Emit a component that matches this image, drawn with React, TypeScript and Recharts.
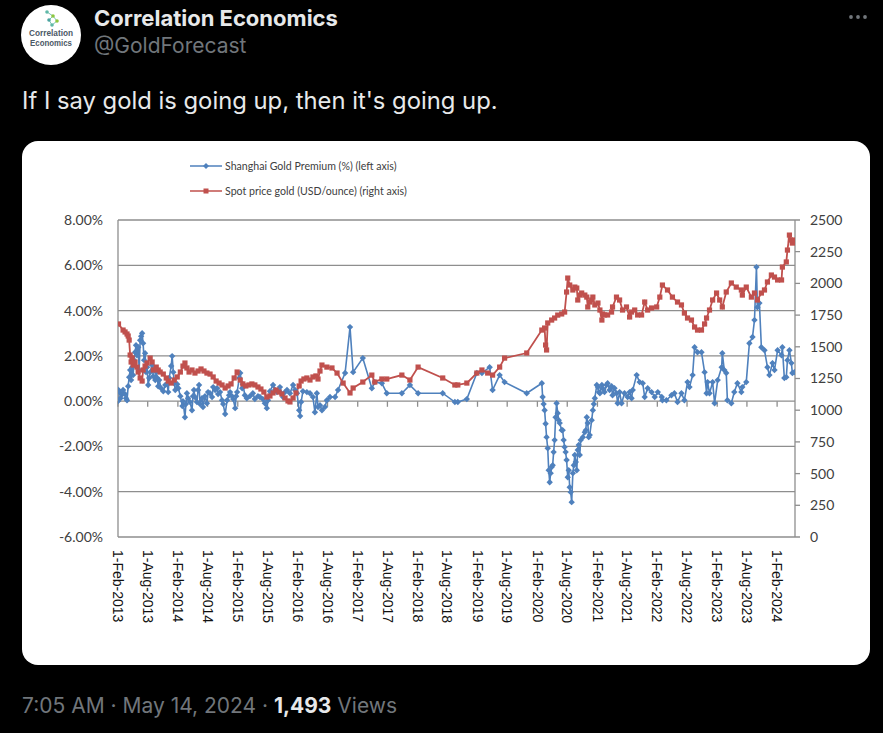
import type { ReactNode } from 'react';
import { CartesianGrid, Legend, Line, LineChart, ReferenceLine, XAxis, YAxis } from 'recharts';

// Shanghai gold premium over London spot, in percent (left axis)
const premiumDates = [
  '2013-02-01', '2013-02-04', '2013-02-10', '2013-02-16', '2013-02-28', '2013-03-04', '2013-03-16', '2013-03-22', '2013-03-28', '2013-04-04',
  '2013-04-10', '2013-04-16', '2013-04-22', '2013-04-28', '2013-05-04', '2013-05-10', '2013-05-16', '2013-05-22', '2013-05-28', '2013-06-04',
  '2013-06-10', '2013-06-16', '2013-06-22', '2013-06-28', '2013-07-04', '2013-07-10', '2013-07-16', '2013-07-22', '2013-07-28', '2013-08-04',
  '2013-08-10', '2013-08-16', '2013-08-28', '2013-09-04', '2013-09-16', '2013-09-22', '2013-09-28', '2013-10-04', '2013-10-10', '2013-10-22',
  '2013-11-04', '2013-11-16', '2013-11-28', '2013-12-04', '2013-12-10', '2013-12-22', '2013-12-28',
  '2014-01-04', '2014-01-10', '2014-01-16', '2014-01-28', '2014-02-04', '2014-02-16', '2014-02-28', '2014-03-04', '2014-03-16', '2014-03-22',
  '2014-03-28', '2014-04-04', '2014-04-16', '2014-04-28', '2014-05-04', '2014-05-10', '2014-05-16', '2014-05-28', '2014-06-04', '2014-06-10',
  '2014-06-16', '2014-06-28', '2014-07-04', '2014-07-16', '2014-07-28', '2014-08-04', '2014-08-16', '2014-08-28', '2014-09-04', '2014-09-16',
  '2014-09-28', '2014-10-04', '2014-10-16', '2014-10-28', '2014-11-04', '2014-11-16', '2014-11-28', '2014-12-10', '2014-12-16', '2014-12-28',
  '2015-01-04', '2015-01-16', '2015-01-22', '2015-01-28', '2015-02-10', '2015-02-16', '2015-02-28', '2015-03-04', '2015-03-16', '2015-03-28',
  '2015-04-16', '2015-05-04', '2015-05-16', '2015-06-04', '2015-06-16', '2015-07-04', '2015-07-16', '2015-07-28', '2015-08-04', '2015-08-16',
  '2015-09-04', '2015-09-16', '2015-09-28', '2015-10-16', '2015-11-04', '2015-11-16', '2015-11-28', '2015-12-16',
  '2016-01-04', '2016-01-16', '2016-01-28', '2016-02-10', '2016-02-16', '2016-02-22', '2016-03-04', '2016-03-28', '2016-04-16', '2016-05-04',
  '2016-05-16', '2016-05-28', '2016-06-04', '2016-06-16', '2016-06-28', '2016-07-16', '2016-07-28', '2016-08-16', '2016-09-16', '2016-10-04',
  '2016-11-16', '2016-12-16',
  '2017-01-04', '2017-03-04', '2017-04-28', '2017-05-16', '2017-06-28', '2017-07-28', '2017-10-28', '2017-12-16',
  '2018-02-04', '2018-07-04', '2018-09-16', '2018-10-04', '2018-11-28',
  '2019-01-28', '2019-02-28', '2019-04-16', '2019-05-04', '2019-06-16', '2019-07-16', '2019-11-28',
  '2020-02-28', '2020-03-04', '2020-03-10', '2020-03-16', '2020-03-22', '2020-03-28', '2020-04-04', '2020-04-10', '2020-04-16', '2020-04-22',
  '2020-04-28', '2020-05-04', '2020-05-10', '2020-05-16', '2020-05-22', '2020-05-28', '2020-06-04', '2020-06-10', '2020-06-16', '2020-06-28',
  '2020-07-04', '2020-07-10', '2020-07-16', '2020-07-22', '2020-07-28', '2020-08-04', '2020-08-10', '2020-08-16', '2020-08-22', '2020-08-28',
  '2020-09-04', '2020-09-10', '2020-09-16', '2020-09-22', '2020-09-28', '2020-10-04', '2020-10-10', '2020-10-16', '2020-10-22', '2020-11-04',
  '2020-11-16', '2020-11-22', '2020-11-28', '2020-12-04', '2020-12-10', '2020-12-16', '2020-12-28',
  '2021-01-04', '2021-01-10', '2021-01-16', '2021-01-28', '2021-02-04', '2021-02-10', '2021-02-16', '2021-02-28', '2021-03-04', '2021-03-16',
  '2021-03-28', '2021-04-04', '2021-04-16', '2021-04-28', '2021-05-04', '2021-05-16', '2021-05-28', '2021-06-04', '2021-06-16', '2021-06-28',
  '2021-07-16', '2021-08-04', '2021-08-16', '2021-08-28', '2021-09-04', '2021-09-28', '2021-10-16', '2021-11-04', '2021-11-16', '2021-12-04',
  '2021-12-28',
  '2022-01-16', '2022-02-04', '2022-02-28', '2022-03-04', '2022-03-28', '2022-04-28', '2022-05-16', '2022-06-04', '2022-06-28', '2022-07-16',
  '2022-08-04', '2022-08-16', '2022-09-04', '2022-09-16', '2022-10-04', '2022-10-28', '2022-11-16', '2022-11-28', '2022-12-04', '2022-12-16',
  '2023-01-04', '2023-01-16', '2023-02-04', '2023-02-28', '2023-03-04', '2023-03-16', '2023-03-28', '2023-04-04', '2023-04-28', '2023-05-16',
  '2023-06-04', '2023-06-28', '2023-07-04', '2023-07-28', '2023-08-16', '2023-09-04', '2023-09-16', '2023-09-28', '2023-10-04', '2023-10-16',
  '2023-10-28', '2023-11-16', '2023-12-04', '2023-12-16',
  '2024-01-04', '2024-01-16', '2024-02-04', '2024-02-28', '2024-03-04', '2024-03-16', '2024-03-28', '2024-04-04', '2024-04-16', '2024-04-28',
  '2024-05-04', '2024-05-16',
];

const premiumValues = [
  0.0, 0.49, 0.4, 0.13, 0.31, 0.49, 0.31, 0.13, 0.04, 0.66,
  1.06, 1.37, 0.93, 1.5, 1.15, 1.81, 2.16, 2.47, 2.03, 2.38,
  1.37, 2.69, 2.87, 3.0, 2.56, 1.81, 2.12, 1.28, 1.5, 0.71,
  1.02, 1.28, 1.59, 1.1, 0.93, 1.28, 1.02, 0.66, 0.93, 0.57,
  0.44, 0.71, 0.75, 0.4, 1.02, 1.55, 1.99,
  1.28, 0.79, 0.49, 0.75, 0.57, 0.22, -0.22, 0.0, -0.71, -0.13,
  0.35, 0.13, -0.04, -0.4, 0.22, 0.49, 0.18, -0.04, 0.49, 0.71,
  -0.13, 0.13, -0.26, 0.22, -0.09, 0.4, 0.35, 0.18, 0.62, 0.49,
  0.57, 0.31, 0.4, 0.04, -0.13, -0.57, 0.04, 0.26, 0.4, 0.22,
  0.09, -0.31, 0.22, 0.4, 1.02, 1.24, 0.57, 0.75, 0.26, 0.13,
  0.22, 0.35, 0.09, 0.22, 0.18, 0.09, -0.09, -0.31, 0.04, 0.44,
  0.71, 0.49, 0.4, 0.62, 0.18, 0.4, 0.49, 0.35,
  0.71, 0.49, 0.35, -0.4, -0.66, -0.04, 0.44, 0.4, 0.35, 0.18,
  -0.49, 0.35, -0.26, -0.18, -0.4, -0.26, 0.04, 0.18, 0.18, 0.49,
  1.24, 3.27,
  1.28, 1.9, 0.57, 0.84, 0.79, 0.35, 0.35, 0.71,
  0.35, 0.35, -0.04, -0.04, 0.09,
  1.24, 1.24, 1.5, 0.49, 1.15, 0.84, 0.35,
  0.79, 0.18, -0.13, -0.4, -1.0, -1.59, -2.08, -3.05, -3.58, -3.18,
  -2.91, -2.83, -2.25, -1.72, -0.71, -0.09, -0.53, -0.84, -0.97, -1.28,
  -1.28, -1.72, -2.03, -2.25, -2.6, -3.36, -3.05, -3.8, -4.02, -4.46,
  -3.18, -2.83, -2.38, -2.69, -3.05, -2.16, -1.94, -2.38, -1.72, -1.59,
  -1.37, -1.28, -0.71, -0.97, -1.59, -1.5, -0.84,
  -0.4, -0.13, 0.13, 0.71, 0.62, 0.4, 0.35, 0.71, 0.57, 0.4,
  0.71, 0.79, 0.49, 0.66, 0.26, 0.57, 0.35, -0.09, 0.4, -0.09,
  0.35, 0.18, 0.4, 0.13, 0.49, 1.15, 0.84, 0.79, 0.18, 0.57,
  0.4,
  0.18, 0.4, 0.18, 0.04, 0.04, 0.26, 0.35, -0.04, 0.35, 0.04,
  0.84, 0.62, 1.15, 2.38, 2.16, 2.16, 1.28, 0.35, 0.84, 0.35,
  0.84, -0.09, 0.93, 1.5, 2.12, 1.37, 1.24, 0.04, -0.09, 0.4,
  0.79, 0.4, 0.62, 0.84, 2.56, 2.83, 3.58, 5.92, 4.15, 4.33,
  2.38, 2.25, 1.5, 1.15,
  1.68, 1.37, 2.25, 2.03, 2.38, 1.02, 1.06, 1.81, 2.25, 1.68,
  1.24, 1.28,
];

// Spot gold in USD per ounce (right axis)
const goldDates = [
  '2013-02-04', '2013-03-04', '2013-03-16', '2013-03-28', '2013-04-04', '2013-04-10', '2013-04-16', '2013-04-22', '2013-04-28', '2013-05-04',
  '2013-05-16', '2013-05-28', '2013-06-04', '2013-06-16', '2013-06-28', '2013-07-04', '2013-07-16', '2013-07-28', '2013-08-16', '2013-08-28',
  '2013-09-04', '2013-09-22', '2013-10-04', '2013-10-16', '2013-11-04', '2013-11-22', '2013-12-04', '2013-12-22',
  '2014-01-10', '2014-01-28', '2014-02-16', '2014-03-04', '2014-03-16', '2014-03-28', '2014-04-10', '2014-04-28', '2014-05-16', '2014-06-04',
  '2014-06-22', '2014-07-10', '2014-07-28', '2014-08-16', '2014-09-04', '2014-09-22', '2014-10-10', '2014-10-28', '2014-11-16', '2014-12-04',
  '2014-12-22',
  '2015-01-10', '2015-01-28', '2015-02-16', '2015-03-04', '2015-03-22', '2015-04-10', '2015-04-28', '2015-05-16', '2015-06-04', '2015-06-22',
  '2015-07-10', '2015-07-28', '2015-08-16', '2015-09-04', '2015-09-22', '2015-10-10', '2015-10-28', '2015-11-16', '2015-12-04', '2015-12-16',
  '2016-01-04', '2016-01-22', '2016-02-10', '2016-02-22', '2016-03-10', '2016-03-28', '2016-04-16', '2016-05-04', '2016-05-22', '2016-06-04',
  '2016-06-16', '2016-06-28', '2016-07-28', '2016-08-28', '2016-09-28', '2016-11-04', '2016-12-16',
  '2017-01-04', '2017-03-04', '2017-04-28', '2017-05-16', '2017-06-28', '2017-07-28', '2017-10-28', '2017-12-16',
  '2018-02-04', '2018-07-04', '2018-09-16', '2018-10-04', '2018-11-28',
  '2019-01-28', '2019-02-28', '2019-04-04', '2019-05-04', '2019-06-16', '2019-07-16', '2019-11-28',
  '2020-02-28', '2020-03-16', '2020-03-22', '2020-03-28', '2020-04-04', '2020-04-28', '2020-05-16', '2020-06-04', '2020-06-28', '2020-07-16',
  '2020-07-28', '2020-08-04', '2020-08-16', '2020-09-04', '2020-09-16', '2020-09-28', '2020-10-04', '2020-10-16', '2020-10-28', '2020-11-16',
  '2020-11-28', '2020-12-04', '2020-12-16', '2020-12-28',
  '2021-01-04', '2021-01-16', '2021-02-04', '2021-02-16', '2021-02-28', '2021-03-04', '2021-03-16', '2021-04-04', '2021-04-28', '2021-05-04',
  '2021-05-28', '2021-06-16', '2021-07-04', '2021-07-28', '2021-08-16', '2021-08-28', '2021-09-16', '2021-10-04', '2021-10-28', '2021-11-16',
  '2021-12-04', '2021-12-28',
  '2022-01-28', '2022-02-16', '2022-03-04', '2022-04-04', '2022-05-04', '2022-06-04', '2022-06-28', '2022-07-16', '2022-08-04', '2022-08-28',
  '2022-09-16', '2022-10-04', '2022-10-28', '2022-11-16', '2022-11-28', '2022-12-16',
  '2023-01-04', '2023-01-28', '2023-02-16', '2023-03-04', '2023-03-28', '2023-04-28', '2023-05-28', '2023-06-28', '2023-07-04', '2023-07-28',
  '2023-08-28', '2023-09-16', '2023-10-04', '2023-10-28', '2023-11-16', '2023-12-04', '2023-12-28',
  '2024-01-16', '2024-02-04', '2024-02-28', '2024-03-04', '2024-03-28', '2024-04-04', '2024-04-16', '2024-04-22', '2024-05-04', '2024-05-16',
];

const goldValues = [
  1680, 1632, 1617, 1601, 1585, 1553, 1435, 1380, 1412, 1356,
  1380, 1340, 1301, 1254, 1230, 1317, 1348, 1372, 1411, 1380,
  1317, 1340, 1317, 1301, 1285, 1254, 1230, 1214,
  1238, 1262, 1301, 1348, 1372, 1333, 1301, 1317, 1293, 1309,
  1325, 1309, 1293, 1285, 1262, 1230, 1214, 1199, 1175, 1191,
  1207,
  1254, 1301, 1238, 1207, 1191, 1199, 1207, 1199, 1183, 1167,
  1143, 1104, 1112, 1136, 1159, 1143, 1128, 1096, 1073, 1065,
  1096, 1136, 1191, 1230, 1246, 1254, 1238, 1262, 1270, 1246,
  1309, 1356, 1340, 1333, 1293, 1214, 1136,
  1175, 1222, 1277, 1222, 1246, 1246, 1277, 1238,
  1340, 1254, 1199, 1199, 1214,
  1293, 1317, 1293, 1277, 1340, 1411, 1451,
  1632, 1648, 1514, 1475, 1688, 1711, 1727, 1750, 1759, 1774,
  1932, 2042, 1987, 1948, 1971, 1963, 1869, 1908, 1924, 1908,
  1892, 1814, 1853, 1869,
  1892, 1830, 1845, 1790, 1711, 1759, 1751, 1751, 1774, 1814,
  1892, 1869, 1790, 1814, 1735, 1774, 1790, 1751, 1751, 1853,
  1790, 1806,
  1814, 1892, 1987, 1948, 1892, 1853, 1830, 1766, 1727, 1711,
  1656, 1632, 1632, 1680, 1727, 1790,
  1869, 1924, 1869, 1814, 1932, 2003, 1971, 1948, 1908, 1971,
  1892, 1924, 1869, 1924, 1948, 2011, 2066,
  2050, 2027, 2027, 2129, 2169, 2263, 2381, 2342, 2318, 2342,
];

const xTickDates = [
  '2013-02-01', '2013-08-01', '2014-02-01', '2014-08-01', '2015-02-01', '2015-08-01',
  '2016-02-01', '2016-08-01', '2017-02-01', '2017-08-01', '2018-02-01', '2018-08-01',
  '2019-02-01', '2019-08-01', '2020-02-01', '2020-08-01', '2021-02-01', '2021-08-01',
  '2022-02-01', '2022-08-01', '2023-02-01', '2023-08-01', '2024-02-01',
];
const xDomain = ['2013-02-01', '2024-05-20'];
const premiumTicks = [-6, -4, -2, 0, 2, 4, 6, 8];
const goldTicks = [0, 250, 500, 750, 1000, 1250, 1500, 1750, 2000, 2250, 2500];

const premiumName = 'Shanghai Gold Premium (%) (left axis)';
const goldName = 'Spot price gold (USD/ounce) (right axis)';

const BLUE = '#4f81bd';
const RED = '#c0504d';
const GRID = '#8e8e8e';
const MONTHS = ['Jan', 'Feb', 'Mar', 'Apr', 'May', 'Jun', 'Jul', 'Aug', 'Sep', 'Oct', 'Nov', 'Dec'];
const EXCEL_FONT = 'Lato, "Open Sans", sans-serif';
const TWEET_FONT = 'Inter, Roboto, "Noto Sans", sans-serif';
const LOGO_FONT = '"Liberation Sans Narrow", "Liberation Sans", sans-serif';

const toTime = (iso: string): number => Date.parse(`${iso}T00:00:00Z`);

function formatDate(t: number): string {
  const d = new Date(t);
  return `${d.getUTCDate()}-${MONTHS[d.getUTCMonth()]}-${d.getUTCFullYear()}`;
}

const premiumData = premiumDates.map((d, i) => ({ t: toTime(d), premium: premiumValues[i] }));
const goldData = goldDates.map((d, i) => ({ t: toTime(d), gold: goldValues[i] }));
const xTicks = xTickDates.map(toTime);

function Diamond(props: any): ReactNode {
  const { cx, cy, index } = props;
  if (cx == null || cy == null) return null;
  return <path key={`p-${index}`} d={`M${cx},${cy - 3.2}L${cx + 3.2},${cy}L${cx},${cy + 3.2}L${cx - 3.2},${cy}Z`} fill={BLUE} />;
}

function Square(props: any): ReactNode {
  const { cx, cy, index } = props;
  if (cx == null || cy == null) return null;
  return <rect key={`g-${index}`} x={cx - 2.6} y={cy - 2.6} width={5.2} height={5.2} fill={RED} />;
}

// rotated date labels, reading top to bottom
function DateTick({ x, y, payload }: any): ReactNode {
  return (
    <text
      x={x}
      y={y}
      dy="0.35em"
      transform={`rotate(90, ${x}, ${y})`}
      textAnchor="start"
      fontFamily='"Liberation Sans", Arial, sans-serif'
      fontSize={14}
      fill="#111"
    >
      {formatDate(payload.value)}
    </text>
  );
}

function SeriesLegend({ payload }: any): ReactNode {
  return (
    <div style={{ fontFamily: EXCEL_FONT, fontSize: 10.6, color: '#404040' }}>
      {(payload ?? []).map((entry: any) => (
        <div key={entry.value} style={{ display: 'flex', alignItems: 'center', height: 25 }}>
          <svg width={35} height={10} style={{ display: 'block' }}>
            <line x1={0} y1={5} x2={32} y2={5} stroke={entry.color} strokeWidth={1.5} />
            {entry.dataKey === 'premium' ? (
              <path d="M16,2L19,5L16,8L13,5Z" fill={entry.color} />
            ) : (
              <rect x={13.5} y={2.5} width={5} height={5} fill={entry.color} />
            )}
          </svg>
          <span>{entry.value}</span>
        </div>
      ))}
    </div>
  );
}

function TweetFrame(): ReactNode {
  return (
    <svg width={883} height={733} style={{ position: 'absolute', left: 0, top: 0 }}>
      <circle cx={51} cy={35} r={30} fill="#fff" />
      <g stroke="#7cc6b0" strokeWidth={1}>
        <line x1={47} y1={12} x2={53} y2={16} />
        <line x1={53} y1={16} x2={49} y2={20} />
        <line x1={53} y1={16} x2={57} y2={21} />
        <line x1={49} y1={20} x2={52} y2={25} />
        <line x1={57} y1={21} x2={52} y2={25} />
      </g>
      <circle cx={47} cy={12} r={1.8} fill="#5fb8a8" />
      <circle cx={53} cy={16} r={1.8} fill="#8cc63f" />
      <circle cx={49} cy={20} r={1.8} fill="#4aa3a0" />
      <circle cx={57} cy={21} r={1.8} fill="#8cc63f" />
      <circle cx={52} cy={25} r={1.8} fill="#5fb8a8" />
      <text x={51} y={36} textAnchor="middle" fontFamily={LOGO_FONT} fontWeight={700} fontSize={8.5} fill="#4b5966" textLength={44} lengthAdjust="spacingAndGlyphs">
        Correlation
      </text>
      <text x={51} y={46} textAnchor="middle" fontFamily={LOGO_FONT} fontWeight={700} fontSize={8.5} fill="#4b5966" textLength={42} lengthAdjust="spacingAndGlyphs">
        Economics
      </text>
      <text x={94} y={26} fontFamily={TWEET_FONT} fontWeight={700} fontSize={22} fill="#e7e9ea">
        Correlation Economics
      </text>
      <text x={94} y={53} fontFamily={TWEET_FONT} fontSize={21} fill="#71767b">
        @GoldForecast
      </text>
      <circle cx={851} cy={17} r={1.9} fill="#71767b" />
      <circle cx={858} cy={17} r={1.9} fill="#71767b" />
      <circle cx={865} cy={17} r={1.9} fill="#71767b" />
      <text x={22} y={109} fontFamily={TWEET_FONT} fontSize={23.8} fill="#e7e9ea">
        If I say gold is going up, then it's going up.
      </text>
      <text x={22} y={713} fontFamily={TWEET_FONT} fontSize={21} fill="#71767b">
        7:05 AM · May 14, 2024 · <tspan fontWeight={700} fill="#e7e9ea">1,493</tspan> Views
      </text>
    </svg>
  );
}

export default function App(): ReactNode {
  return (
    <div style={{ position: 'fixed', left: 0, top: 0, width: 883, height: 733, background: '#000', overflow: 'hidden' }}>
      <TweetFrame />
      <div
        style={{
          position: 'absolute',
          left: 22,
          top: 141,
          width: 848,
          height: 524,
          background: '#fff',
          borderRadius: 16,
          overflow: 'hidden',
        }}
      >
        <LineChart width={848} height={524} margin={{ top: 79, right: 0, bottom: 0, left: 0 }}>
          <CartesianGrid yAxisId="left" vertical={false} stroke={GRID} strokeWidth={1.3} />
          <XAxis
            dataKey="t"
            type="number"
            domain={xDomain.map(toTime)}
            ticks={xTicks}
            interval={0}
            allowDataOverflow
            height={128}
            axisLine={false}
            tickLine={false}
            tickSize={0}
            tickMargin={13}
            tick={<DateTick />}
          />
          <YAxis
            yAxisId="left"
            orientation="left"
            width={96}
            domain={[-6, 8]}
            ticks={premiumTicks}
            interval={0}
            tickFormatter={(v: number) => `${v.toFixed(2)}%`}
            axisLine={{ stroke: GRID, strokeWidth: 1.3 }}
            tickLine={false}
            tickSize={5}
            tickMargin={10}
            tick={{ fontFamily: EXCEL_FONT, fontSize: 14, fill: '#404040' }}
          />
          <YAxis
            yAxisId="right"
            orientation="right"
            width={75}
            domain={[0, 2500]}
            ticks={goldTicks}
            interval={0}
            axisLine={{ stroke: GRID, strokeWidth: 1.3 }}
            tickLine={{ stroke: GRID, strokeWidth: 1.3 }}
            tickSize={5}
            tickMargin={10}
            tick={{ fontFamily: EXCEL_FONT, fontSize: 14, fill: '#404040' }}
          />
          {xTicks.map((t) => (
            <ReferenceLine
              key={t}
              yAxisId="left"
              segment={[{ x: t, y: 0 }, { x: t, y: -0.25 }]}
              stroke={GRID}
              strokeWidth={1.3}
              ifOverflow="visible"
            />
          ))}
          <Legend
            layout="vertical"
            align="center"
            verticalAlign="middle"
            content={<SeriesLegend />}
            wrapperStyle={{ left: 168, top: 12, width: 'auto', height: 'auto' }}
          />
          <Line
            yAxisId="left"
            data={premiumData}
            dataKey="premium"
            name={premiumName}
            type="linear"
            stroke={BLUE}
            strokeWidth={1.6}
            dot={Diamond}
            activeDot={false}
            isAnimationActive={false}
          />
          <Line
            yAxisId="right"
            data={goldData}
            dataKey="gold"
            name={goldName}
            type="linear"
            stroke={RED}
            strokeWidth={1.8}
            dot={Square}
            activeDot={false}
            isAnimationActive={false}
          />
        </LineChart>
      </div>
    </div>
  );
}
